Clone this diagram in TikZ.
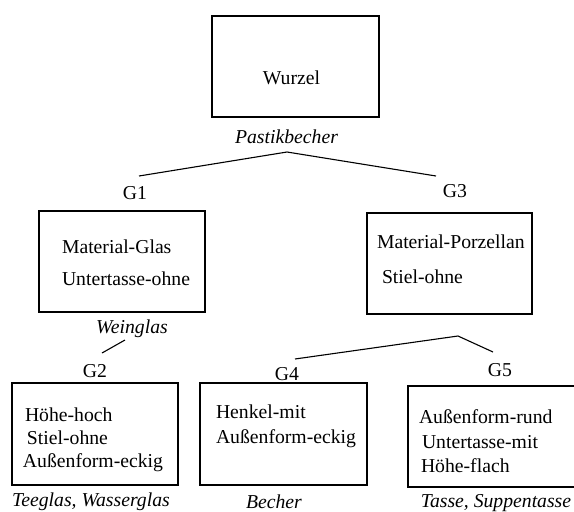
\documentclass[tikz,border=0pt]{standalone}
\usepackage{fontspec}
\setmainfont{Liberation Serif}
\begin{document}
\begin{tikzpicture}[x=1pt,y=-1pt,
  every node/.style={inner sep=0pt,outer sep=0pt,font=\fontsize{19.7}{23}\selectfont},
  box/.style={draw,line width=1.2pt,minimum width=#1},
  boxh/.style={minimum height=101pt},
  txt/.style={anchor=base west},
  lbl/.style={anchor=base},
  cls/.style={anchor=base,font=\fontsize{19.7}{23}\selectfont\itshape},
  conn/.style={line width=1.1pt}]
\useasboundingbox (0,0) rectangle (574,512);
\clip (0,0) rectangle (574,512);
% boxes
\node[box=167pt,boxh] (root) at (295.5,66.5) {};
\node[box=166pt,boxh] (b1) at (122,261.5) {};
\node[box=165pt,boxh] (b3) at (449.5,263.5) {};
\node[box=166pt,minimum height=102pt] (b2) at (95,434) {};
\node[box=167pt,minimum height=102pt] (b4) at (283.5,434) {};
\node[box=172pt,boxh] (b5) at (494,436.5) {};
% root
\node[lbl] (tw) at (291.5,84) {Wurzel};
\node[cls] (c0) at (286.5,143) {Pastikbecher};
% labels
\node[lbl] (g1) at (135,199) {G1};
\node[lbl] (g3) at (455,197) {G3};
\node[lbl] (g2) at (95,377) {G2};
\node[lbl] (g4) at (287,380) {G4};
\node[lbl] (g5) at (500,376) {G5};
% G1 texts
\node[txt] (t11) at (62,253) {Material-Glas};
\node[txt] (t12) at (62,285) {Untertasse-ohne};
\node[cls] (c1) at (132,333) {Weinglas};
% G3 texts
\node[txt] (t31) at (377,248) {Material-Porzellan};
\node[txt] (t32) at (382,283) {Stiel-ohne};
% G2 texts
\node[txt] (t21) at (25,421) {Höhe-hoch};
\node[txt] (t22) at (27,444) {Stiel-ohne};
\node[txt] (t23) at (23,467) {Außenform-eckig};
\node[cls] (c2) at (91,506) {Teeglas, Wasserglas};
% G4 texts
\node[txt] (t41) at (216,418) {Henkel-mit};
\node[txt] (t42) at (216,443) {Außenform-eckig};
\node[cls] (c4) at (274,508.5) {Becher};
% G5 texts
\node[txt] (t51) at (419,423) {Außenform-rund};
\node[txt] (t52) at (422,448) {Untertasse-mit};
\node[txt] (t53) at (421,472) {Höhe-flach};
\node[cls] (c5) at (496,507) {Tasse, Suppentasse};
% connectors
\coordinate (a0) at (287,152);
\coordinate (e1) at (139,176);
\coordinate (e3) at (436,176);
\draw[conn] (e1) -- (a0) -- (e3);
\coordinate (w1) at (125,340);
\coordinate (e2) at (102,353);
\draw[conn] (w1) -- (e2);
\coordinate (a3) at (458,336);
\coordinate (e4) at (295,359);
\coordinate (e5) at (493,352);
\draw[conn] (e4) -- (a3) -- (e5);
\end{tikzpicture}
\end{document}
